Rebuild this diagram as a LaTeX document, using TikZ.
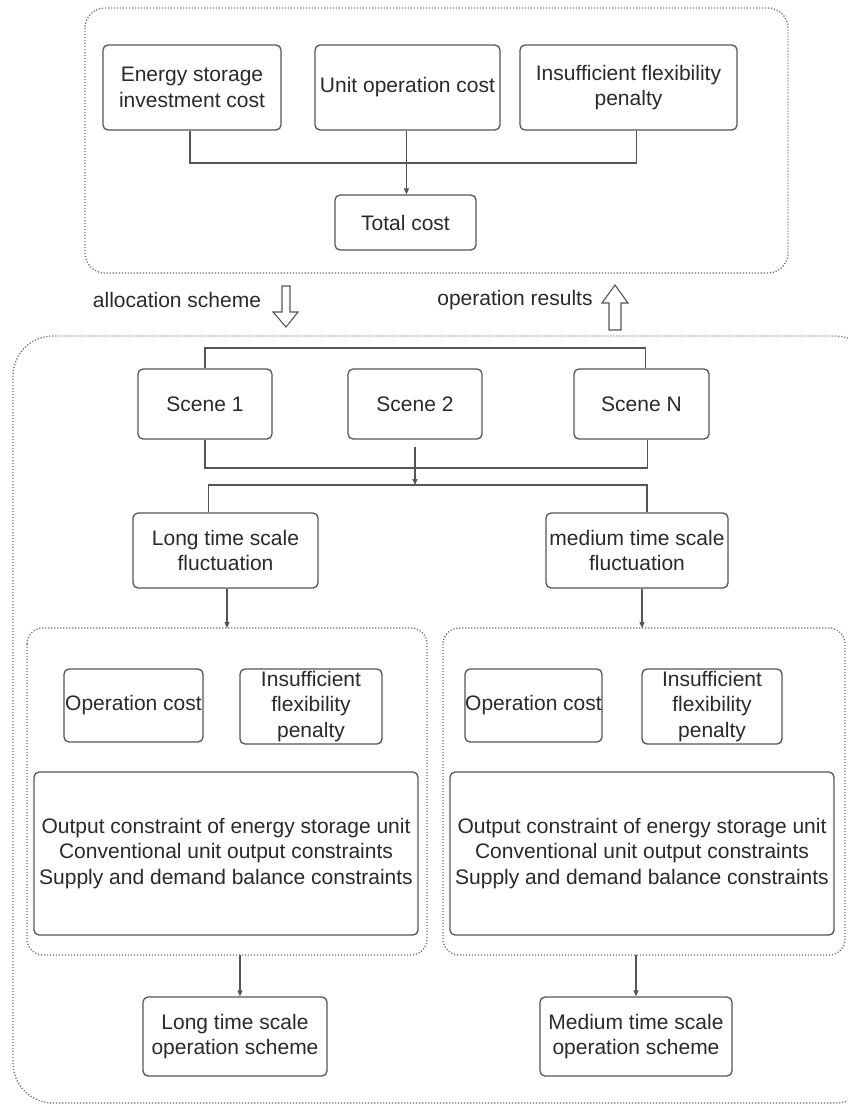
\documentclass[tikz,border=0pt]{standalone}
\usepackage{fontspec}
\setmainfont{Liberation Sans}
\usetikzlibrary{arrows.meta,calc}
\definecolor{txt}{HTML}{2A2A2A}
\definecolor{edge}{HTML}{555555}
\definecolor{dots}{HTML}{707070}
\begin{document}
\begin{tikzpicture}[x=1pt,y=-1pt,
  box/.style={draw=edge,line width=1.3pt,rounded corners=5pt,align=center,
    inner sep=0pt,text=txt,font=\fontsize{21}{25.5}\selectfont},
  frame/.style={draw=dots,line width=1.3pt,dash pattern=on 1.2pt off 1.8pt},
  link/.style={draw=edge,line width=1.1pt},
  arr/.style={link,-{Triangle[length=6pt,width=5pt]}},
  hollow/.style={draw=edge,line width=1.1pt,fill=white,line join=miter},
  lbl/.style={text=txt,font=\fontsize{21}{25.5}\selectfont,inner sep=0pt}]
\useasboundingbox (0,0) rectangle (847,1106);
\fill[white] (0,0) rectangle (847,1106);

% top frame
\draw[frame,rounded corners=20pt] (85,8) rectangle (788,273);
\node[box,minimum width=178,minimum height=85] (esic) at (192,87.5) {Energy storage\\investment cost};
\node[box,minimum width=185,minimum height=85] (uoc) at (407.5,87.5) {Unit operation cost};
\node[box,minimum width=217,minimum height=85] (ifp) at (628.5,87.5) {Insufficient flexibility\\penalty};
\node[box,minimum width=141,minimum height=55] (total) at (405.5,222.5) {Total cost};
\coordinate (busA) at (0,163);
\draw[link] ([xshift=-2pt]esic.south) |- ([xshift=8pt]ifp.south |- busA) -- ([xshift=8pt]ifp.south);
\draw[arr] ([xshift=-1pt]uoc.south) -- (total.north -| {$([xshift=-1pt]uoc.south)$});

% labels between
\node[lbl] (alloc) at (177,300) {allocation scheme};
\node[lbl] (opres) at (515,300) {operation results};
\draw[hollow] (282,286) -- (290,286) -- (290,312) -- (298,312) -- (286,327) -- (273,312) -- (282,312) -- cycle;
\draw[hollow] (609,330) -- (621,330) -- (621,303) -- (628,303) -- (615,285) -- (602,303) -- (609,303) -- cycle;

% big frame
\draw[frame,rounded corners=40pt] (13,336) rectangle (875,1103);

\node[box,minimum width=134,minimum height=70] (s1) at (205,404) {Scene 1};
\node[box,minimum width=134,minimum height=70] (s2) at (415,404) {Scene 2};
\node[box,minimum width=135,minimum height=70] (sn) at (641.5,404) {Scene N};
\coordinate (busT) at (0,348);
\coordinate (busB) at (0,468);
\coordinate (busC) at (0,485);
\draw[link] (s1.north) |- ([xshift=4pt]sn.north |- busT) -- ([xshift=4pt]sn.north);
\draw[link] (s1.south) |- ([xshift=6pt]sn.south |- busB) -- ([xshift=6pt]sn.south);
\draw[arr] ([yshift=-7pt]s2.south) -- (s2.south |- busC);

\node[box,minimum width=185,minimum height=75] (lf) at (225.5,550.5) {Long time scale\\fluctuation};
\node[box,minimum width=182,minimum height=75] (mf) at (637,550.5) {medium time scale\\fluctuation};
\draw[link] ([xshift=-17pt]lf.north) |- ([xshift=10pt]mf.north |- busC) -- ([xshift=10pt]mf.north);

% inner frames
\draw[frame,rounded corners=16pt] (27,628) rectangle (427,955);
\draw[frame,rounded corners=16pt] (443,628) rectangle (845,955);
\coordinate (lt) at (0,628);
\draw[arr] ([xshift=1.5pt]lf.south) -- ([xshift=1.5pt]lf.south |- lt);
\draw[arr] ([xshift=5pt]mf.south) -- ([xshift=5pt]mf.south |- lt);

\node[box,minimum width=139,minimum height=73] (ocl) at (133.5,705.5) {Operation cost};
\node[box,minimum width=142,minimum height=75] (ifl) at (311,706.5) {Insufficient\\flexibility\\penalty};
\node[box,minimum width=384,minimum height=163] (cl) at (226,853.5) {Output constraint of energy storage unit\\Conventional unit output constraints\\Supply and demand balance constraints};
\node[box,minimum width=137,minimum height=73] (ocr) at (533.5,705.5) {Operation cost};
\node[box,minimum width=140,minimum height=75] (ifr) at (712,706.5) {Insufficient\\flexibility\\penalty};
\node[box,minimum width=384,minimum height=163] (cr) at (642,853.5) {Output constraint of energy storage unit\\Conventional unit output constraints\\Supply and demand balance constraints};

\node[box,minimum width=184,minimum height=79] (lo) at (235,1036.5) {Long time scale\\operation scheme};
\node[box,minimum width=192,minimum height=79] (mo) at (636,1036.5) {Medium time scale\\operation scheme};
\coordinate (lb) at (0,955);
\draw[arr] ([xshift=5pt]lo.north |- lb) -- ([xshift=5pt]lo.north);
\draw[arr] (mo.north |- lb) -- (mo.north);
\end{tikzpicture}
\end{document}
